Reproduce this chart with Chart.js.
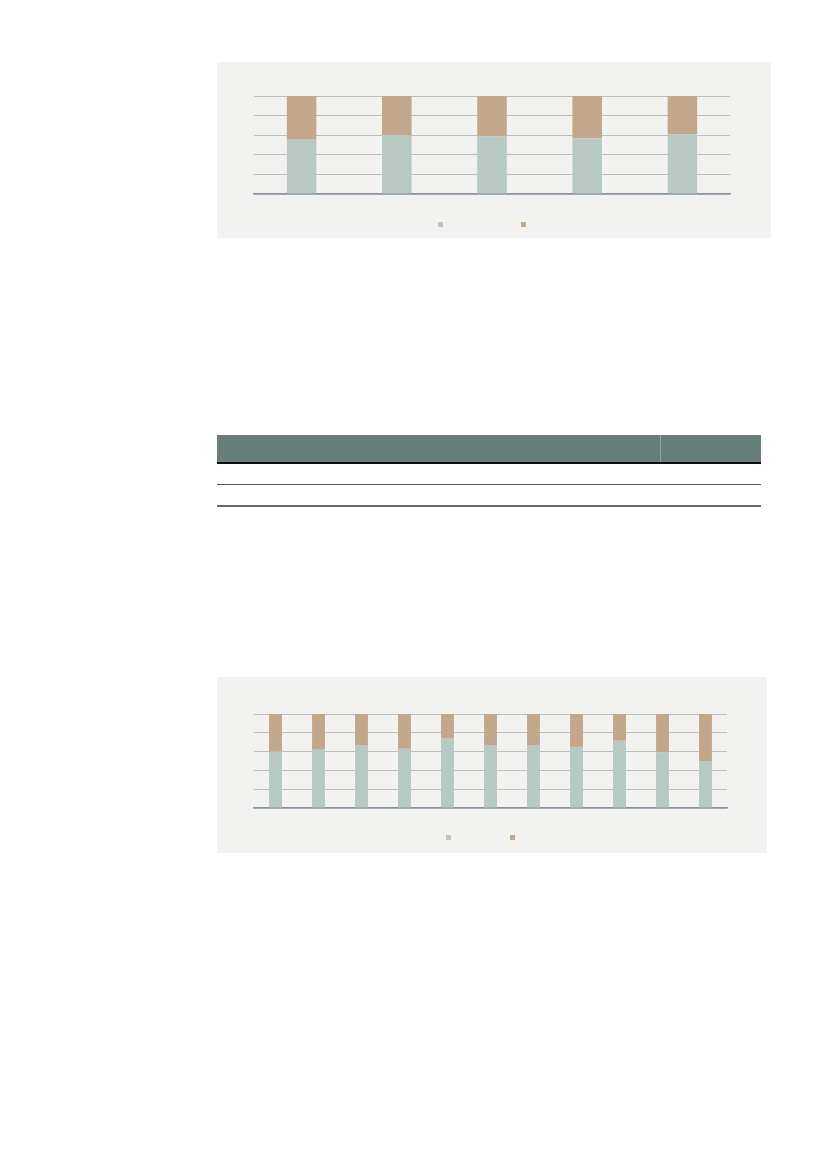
<!DOCTYPE html>
<html>
<head>
<meta charset="utf-8">
<script src="https://cdn.jsdelivr.net/npm/chart.js@4.4.1/dist/chart.umd.min.js"></script>
<style>
  body { margin: 0; background: #ffffff; width: 827px; height: 1169px; position: relative; font-family: "Liberation Sans", Arial, sans-serif; }
  .panel { position: absolute; background: #f2f2f0; }
  .panel canvas { display: block; }
  #panel1 { left: 217px; top: 62px; width: 554px; height: 176px; }
  #panel2 { left: 217px; top: 677px; width: 550px; height: 176px; }
  table { position: absolute; left: 217px; top: 435px; width: 544px; border-collapse: collapse; }
  th { background: #677f7a; height: 27px; padding: 0; border-bottom: 2px solid #111; }
  th + th { border-left: 1px solid #93a6a1; }
  td { height: 20px; padding: 0; border-bottom: 1.5px solid #555; }
  tr:last-child td { border-bottom: 2px solid #6a6a6a; }
</style>
</head>
<body>
<div class="panel" id="panel1"><canvas id="chart1" width="554" height="176"></canvas></div>

<table>
  <tr><th style="width:443px"></th><th></th></tr>
  <tr><td></td><td></td></tr>
  <tr><td></td><td></td></tr>
</table>

<div class="panel" id="panel2"><canvas id="chart2" width="550" height="176"></canvas></div>

<script>
// data (shares in %, stacked to 100)
const categories1 = ['', '', '', '', ''];
const greenShare1 = [56, 60, 59, 57, 61];
const tanShare1 = [44, 40, 41, 43, 39];

const categories2 = ['', '', '', '', '', '', '', '', '', '', ''];
const greenShare2 = [60, 62, 67, 63, 74.5, 67, 67, 65, 71.5, 59, 50];
const tanShare2 = [40, 38, 33, 37, 25.5, 33, 33, 35, 28.5, 41, 50];

const seriesNames = ['', ''];
const yTicks = [0, 20, 40, 60, 80, 100];

const GREEN = '#b8c8c2';
const TAN = '#c3a78b';

// small square legend markers (the legend text is not visible in the picture)
const squareLegend = {
  id: 'squareLegend',
  afterDraw(chart, args, opts) {
    const ctx = chart.ctx;
    ctx.save();
    chart.data.datasets.forEach((ds, i) => {
      ctx.fillStyle = ds.backgroundColor;
      ctx.fillRect(opts.x + i * opts.gap, opts.y, opts.size, opts.size);
    });
    ctx.restore();
  }
};

function makeChart(id, labels, green, tan, barPct, padding, legendPos) {
  const ctx = document.getElementById(id).getContext('2d');
  return new Chart(ctx, {
    type: 'bar',
    data: {
      labels: labels,
      datasets: [
        { label: seriesNames[0], data: green, backgroundColor: GREEN, borderWidth: 0 },
        { label: seriesNames[1], data: tan, backgroundColor: TAN, borderWidth: 0 }
      ]
    },
    options: {
      responsive: false,
      animation: false,
      layout: { padding: padding },
      datasets: { bar: { categoryPercentage: 1, barPercentage: barPct } },
      scales: {
        x: {
          stacked: true,
          grid: { display: false },
          ticks: { display: false },
          border: { display: true, color: '#8a93a3', width: 1.5 }
        },
        y: {
          stacked: true,
          min: yTicks[0],
          max: yTicks[yTicks.length - 1],
          afterBuildTicks: (scale) => { scale.ticks = yTicks.map(v => ({ value: v })); },
          grid: { color: '#bdbdbb', lineWidth: 1, drawTicks: false },
          ticks: { display: false },
          border: { display: false }
        }
      },
      plugins: {
        legend: { display: false },
        tooltip: { enabled: false },
        squareLegend: legendPos
      }
    },
    plugins: [squareLegend]
  });
}

makeChart('chart1', categories1, greenShare1, tanShare1, 0.31,
  { top: 34, left: 37, right: 41, bottom: 36 },
  { x: 221, y: 160, gap: 83, size: 5 });

makeChart('chart2', categories2, greenShare2, tanShare2, 0.30,
  { top: 37, left: 37, right: 40, bottom: 37 },
  { x: 229, y: 158, gap: 64, size: 5 });
</script>
</body>
</html>
